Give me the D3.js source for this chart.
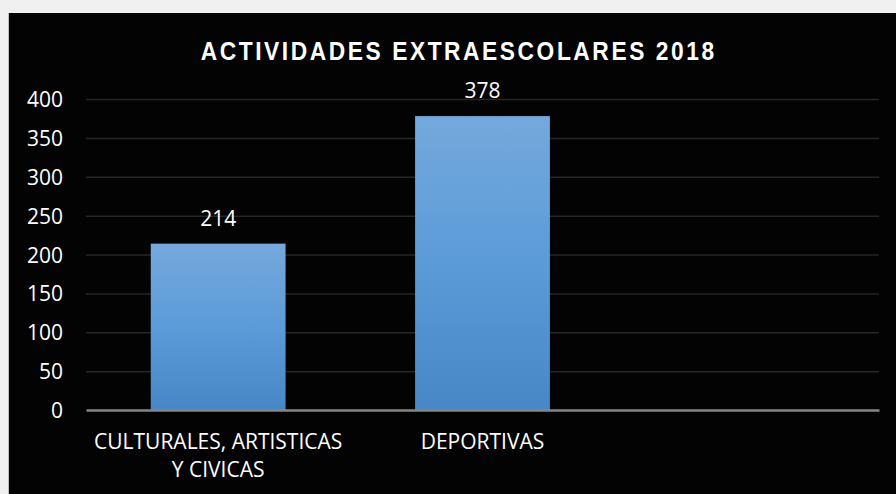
<!DOCTYPE html>
<html><head><meta charset="utf-8">
<script src="https://cdn.jsdelivr.net/npm/d3@7/dist/d3.min.js"></script>
<style>
html,body{margin:0;padding:0;background:#f0f0f0;}
svg{display:block;}
</style></head>
<body>
<script>
const title = "ACTIVIDADES EXTRAESCOLARES 2018";
const categories = ["CULTURALES, ARTISTICAS|Y CIVICAS", "DEPORTIVAS", ""];
const values = [214, 378, null];
const yTicks = [0, 50, 100, 150, 200, 250, 300, 350, 400];

(function () {
const W = 896, H = 494;
const svg = d3.select("body").append("svg").attr("width", W).attr("height", H);

svg.append("rect").attr("x", 0).attr("y", 0).attr("width", W).attr("height", H).attr("fill", "#f0f0f0");
svg.append("rect").attr("x", 8).attr("y", 13).attr("width", W - 8).attr("height", H - 13).attr("fill", "#030303");
svg.append("line").attr("x1", 8.5).attr("x2", 8.5).attr("y1", 13).attr("y2", H).attr("stroke", "#bdbdbd").attr("stroke-width", 1);

const defs = svg.append("defs");
const grad = defs.append("linearGradient").attr("id", "barGrad").attr("x1", 0).attr("x2", 0).attr("y1", 0).attr("y2", 1);
grad.append("stop").attr("offset", "0%").attr("stop-color", "#74a9dc");
grad.append("stop").attr("offset", "50%").attr("stop-color", "#5b9bd8");
grad.append("stop").attr("offset", "100%").attr("stop-color", "#4787c6");

const pLeft = 86, pRight = 879, pTop = 99, pBottom = 410;
const x = d3.scaleBand().domain(categories).range([pLeft, pRight]).paddingInner(0.49).paddingOuter(0.245);
const y = d3.scaleLinear().domain([0, 400]).range([pBottom, pTop]);

svg.append("g").selectAll("line").data(yTicks.filter(d => d > 0)).join("line")
  .attr("x1", pLeft).attr("x2", pRight)
  .attr("y1", d => y(d) + 0.5).attr("y2", d => y(d) + 0.5)
  .attr("stroke", "#262626").attr("stroke-width", 1.5);

const yAxis = d3.axisLeft(y).tickValues(yTicks).tickSize(0).tickPadding(0);
const gy = svg.append("g").attr("transform", `translate(63,0)`).call(yAxis);
gy.select(".domain").remove();
gy.selectAll("text").attr("fill", "#ffffff").attr("font-family", "'Open Sans', sans-serif")
  .attr("font-size", 21).attr("dy", "0.36em");

const barData = categories.map((c, i) => ({c, v: values[i]})).filter(d => d.v != null);
svg.append("g").selectAll("rect").data(barData).join("rect")
  .attr("x", d => x(d.c)).attr("width", x.bandwidth())
  .attr("y", d => y(d.v)).attr("height", d => y(0) - y(d.v))
  .attr("fill", "url(#barGrad)");

svg.append("g").selectAll("text").data(barData).join("text")
  .attr("x", d => x(d.c) + x.bandwidth() / 2)
  .attr("y", d => y(d.v) - 18)
  .attr("text-anchor", "middle").attr("fill", "#ffffff")
  .attr("font-family", "'Open Sans', sans-serif").attr("font-size", 21)
  .text(d => d.v);

const xAxis = d3.axisBottom(x).tickSize(0).tickFormat("");
const gx = svg.append("g").attr("transform", `translate(0,${pBottom})`).call(xAxis);
gx.select(".domain").attr("stroke", "#868686").attr("stroke-width", 2.5);

const catG = svg.append("g");
categories.forEach(c => {
  if (!c) return;
  const lines = c.split("|");
  const t = catG.append("text")
    .attr("text-anchor", "middle").attr("fill", "#ffffff")
    .attr("font-family", "'Open Sans', sans-serif").attr("font-size", 21);
  lines.forEach((ln, i) => {
    t.append("tspan").attr("x", x(c) + x.bandwidth() / 2).attr("y", 449 + i * 27.5).text(ln);
  });
});

svg.append("text").attr("x", 458.7).attr("y", 60).attr("text-anchor", "middle")
  .attr("fill", "#ffffff").attr("font-family", "'Liberation Sans', Arial, sans-serif")
  .attr("font-weight", "bold").attr("font-size", 26.5).attr("letter-spacing", 3)
  .attr("textLength", 516).attr("lengthAdjust", "spacingAndGlyphs")
  .text(title);
})();
</script>
</body></html>
